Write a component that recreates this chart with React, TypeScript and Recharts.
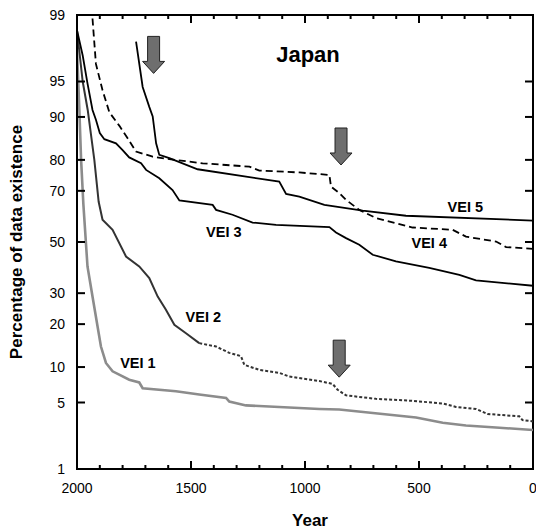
import React from "react";
import {
  LineChart,
  Line,
  XAxis,
  YAxis,
  ReferenceDot,
  ReferenceArea,
} from "recharts";

// survival curves, year vs percentage of data existence
const VEI5_YEARS = [1741, 1712, 1683, 1668, 1653, 1639, 1595, 1471, 1113, 1083, 1025, 915, 747, 557, 0];
const VEI5_PCT = [98.0, 94.4, 91.7, 90.1, 84.4, 81.4, 80.5, 77.2, 73.2, 68.9, 67.9, 64.8, 62.6, 60.6, 58.7];

const VEI4_YEARS = [1932, 1917, 1888, 1858, 1814, 1778, 1741, 1668, 1595, 1449, 1244, 1200, 1025, 893, 886, 850, 820, 762, 689, 528, 353, 294, 162, 118, 0];
const VEI4_PCT = [98.9, 96.6, 94.0, 90.8, 88.3, 85.6, 82.3, 80.9, 80.2, 79.0, 78.0, 76.8, 76.2, 75.4, 71.5, 69.2, 66.7, 62.9, 59.7, 55.9, 55.0, 52.2, 50.2, 47.9, 47.2];

const VEI3_YEARS = [2000, 1975, 1954, 1932, 1917, 1900, 1880, 1829, 1800, 1771, 1719, 1697, 1639, 1581, 1551, 1405, 1390, 1318, 1230, 1127, 893, 864, 820, 762, 703, 601, 455, 323, 250, 0];
const VEI3_PCT = [98.5, 97.2, 94.8, 91.2, 89.5, 86.8, 85.4, 84.4, 82.7, 80.7, 79.0, 77.0, 74.3, 70.3, 66.5, 64.8, 62.9, 61.0, 57.9, 57.0, 56.1, 53.9, 51.6, 48.9, 44.8, 42.1, 39.5, 36.8, 34.7, 32.7];

const VEI2_YEARS = [2000, 1975, 1953, 1924, 1905, 1888, 1844, 1785, 1727, 1683, 1646, 1610, 1573, 1522, 1464];
const VEI2_PCT = [98.5, 95.0, 91.2, 80.0, 66.0, 59.0, 55.0, 44.1, 40.1, 35.6, 28.8, 24.4, 19.8, 17.5, 15.0];
const VEI2_LATE_YEARS = [1464, 1390, 1332, 1281, 1266, 1200, 1113, 1069, 937, 879, 857, 820, 689, 542, 396, 338, 250, 199, 60, 46, 0];
const VEI2_LATE_PCT = [15.0, 14.2, 12.8, 12.1, 10.4, 9.5, 9.0, 8.4, 7.7, 7.3, 6.5, 5.8, 5.4, 5.2, 4.9, 4.55, 4.35, 3.9, 3.7, 3.4, 3.3];

const VEI1_YEARS = [2000, 1990, 1982, 1972, 1954, 1932, 1910, 1895, 1873, 1844, 1815, 1771, 1727, 1712, 1566, 1464, 1346, 1332, 1259, 937, 850, 660, 513, 396, 294, 147, 0];
const VEI1_PCT = [97.5, 91.5, 80.0, 65.0, 40.1, 28.8, 19.4, 14.2, 10.75, 9.25, 8.7, 7.9, 7.5, 6.7, 6.3, 5.9, 5.5, 5.1, 4.7, 4.35, 4.3, 3.9, 3.6, 3.2, 3.0, 2.85, 2.7];

const X_TICKS = [0, 100, 200, 300, 400, 500, 600, 700, 800, 900, 1000, 1100, 1200, 1300, 1400, 1500, 1600, 1700, 1800, 1900, 2000];
const Y_TICK_PCT = [1, 5, 10, 20, 30, 50, 70, 80, 90, 95, 99];

const ARROW_YEARS = [1664, 842, 850];
const ARROW_PCT = [95.8, 78.5, 8.3];

const LABEL_TEXT = ["VEI 5", "VEI 4", "VEI 3", "VEI 2", "VEI 1"];
const LABEL_YEARS = [297, 455, 1356, 1446, 1733];
const LABEL_PCT = [64.1, 49.7, 54.2, 22.2, 10.8];

const FONT = "'Liberation Sans', Arial, Helvetica, sans-serif";
const FRAME = 2;

// inverse normal cdf (Acklam) for the probability axis
function probit(p: number): number {
  const a = [-39.69683028665376, 220.9460984245205, -275.9285104469687, 138.357751867269, -30.66479806614716, 2.506628277459239];
  const b = [-54.47609879822406, 161.5858368580409, -155.6989798598866, 66.80131188771972, -13.28068155288572];
  const c = [-0.007784894002430293, -0.3223964580411365, -2.400758277161838, -2.549732539343734, 4.374664141464968, 2.938163982698783];
  const d = [0.007784695709041462, 0.3224671290700398, 2.445134137142996, 3.754408661907416];
  const pl = 0.02425;
  if (p < pl) {
    const q = Math.sqrt(-2 * Math.log(p));
    return (((((c[0] * q + c[1]) * q + c[2]) * q + c[3]) * q + c[4]) * q + c[5]) / ((((d[0] * q + d[1]) * q + d[2]) * q + d[3]) * q + 1);
  }
  if (p <= 1 - pl) {
    const q = p - 0.5;
    const r = q * q;
    return ((((((a[0] * r + a[1]) * r + a[2]) * r + a[3]) * r + a[4]) * r + a[5]) * q) / (((((b[0] * r + b[1]) * r + b[2]) * r + b[3]) * r + b[4]) * r + 1);
  }
  const q = Math.sqrt(-2 * Math.log(1 - p));
  return -(((((c[0] * q + c[1]) * q + c[2]) * q + c[3]) * q + c[4]) * q + c[5]) / ((((d[0] * q + d[1]) * q + d[2]) * q + d[3]) * q + 1);
}

const z = (pct: number) => probit(pct / 100);
const toPoints = (years: number[], pct: number[]) => years.map((year, i) => ({ year, z: z(pct[i]) }));

const Y_TICKS = Y_TICK_PCT.map(z);
const Y_DOMAIN = [z(1), z(99)];
const pctLabel = (v: number) => Y_TICK_PCT.find((p) => Math.abs(z(p) - v) < 1e-6);

const LeftLabel = (props: any) => (
  <text x={Number(props.x) - 12} y={Number(props.y)} dy={5} textAnchor="end" fontSize={14} fontFamily={FONT} fill="#000">
    {pctLabel(props.payload.value)}
  </text>
);

const BottomLabel = (props: any) =>
  props.payload.value % 500 === 0 ? (
    <text x={Number(props.x)} y={Number(props.y) + 24} textAnchor="middle" fontSize={14} fontFamily={FONT} fill="#000">
      {props.payload.value}
    </text>
  ) : (
    <g />
  );

// inward tick mark drawn at a data point on the frame edge
const tickMark = (dx: number, dy: number) => (props: any) => {
  const cx = Number(props.cx);
  const cy = Number(props.cy);
  return <line x1={cx} y1={cy} x2={cx + dx} y2={cy + dy} stroke="#000" strokeWidth={FRAME} />;
};

const Arrow = (props: any) => {
  const cx = Number(props.cx);
  const cy = Number(props.cy);
  const pts = [
    [cx - 6, cy - 37],
    [cx + 6, cy - 37],
    [cx + 6, cy - 12],
    [cx + 11, cy - 12],
    [cx, cy],
    [cx - 11, cy - 12],
    [cx - 6, cy - 12],
  ]
    .map((p) => p.join(","))
    .join(" ");
  return <polygon points={pts} fill="#6e6e6e" stroke="#222" strokeWidth={1} />;
};

const textShape = (label: string, size: number) => (props: any) => (
  <text x={props.cx} y={props.cy} dy={size * 0.36} textAnchor="middle" fontSize={size} fontWeight="bold" fontFamily={FONT} fill="#000">
    {label}
  </text>
);

export default function App() {
  return (
    <div style={{ position: "absolute", left: 0, top: 0, width: 536, height: 529, background: "#fff" }}>
      <LineChart width={536} height={529} margin={{ top: 15, right: 3, bottom: 0, left: 0 }}>
        <XAxis
          dataKey="year"
          type="number"
          domain={[0, 2000]}
          reversed
          allowDataOverflow
          ticks={X_TICKS}
          interval={0}
          height={60}
          tickSize={0}
          tickMargin={0}
          tick={<BottomLabel />}
          axisLine={{ stroke: "#000", strokeWidth: FRAME }}
        />
        <YAxis
          type="number"
          domain={Y_DOMAIN}
          allowDataOverflow
          ticks={Y_TICKS}
          interval={0}
          width={77}
          tickSize={0}
          tickMargin={0}
          tick={<LeftLabel />}
          axisLine={{ stroke: "#000", strokeWidth: FRAME }}
        />

        <ReferenceArea
          x1={0}
          x2={2000}
          y1={Y_DOMAIN[0]}
          y2={Y_DOMAIN[1]}
          fill="none"
          stroke="#000"
          strokeWidth={FRAME}
          ifOverflow="visible"
        />
        {X_TICKS.map((t) => (
          <ReferenceDot key={`b-${t}`} x={t} y={Y_DOMAIN[0]} r={0} ifOverflow="visible" shape={tickMark(0, t % 500 === 0 ? -8 : -4)} />
        ))}
        {X_TICKS.map((t) => (
          <ReferenceDot key={`t-${t}`} x={t} y={Y_DOMAIN[1]} r={0} ifOverflow="visible" shape={tickMark(0, t % 500 === 0 ? 8 : 4)} />
        ))}
        {Y_TICKS.map((t, i) => (
          <ReferenceDot key={`l-${i}`} x={2000} y={t} r={0} ifOverflow="visible" shape={tickMark(8, 0)} />
        ))}
        {Y_TICKS.map((t, i) => (
          <ReferenceDot key={`r-${i}`} x={0} y={t} r={0} ifOverflow="visible" shape={tickMark(-8, 0)} />
        ))}

        <Line data={toPoints(VEI1_YEARS, VEI1_PCT)} dataKey="z" type="linear" stroke="#8c8c8c" strokeWidth={2.6} dot={false} isAnimationActive={false} />
        <Line data={toPoints(VEI2_YEARS, VEI2_PCT)} dataKey="z" type="linear" stroke="#333" strokeWidth={2} dot={false} isAnimationActive={false} />
        <Line data={toPoints(VEI2_LATE_YEARS, VEI2_LATE_PCT)} dataKey="z" type="linear" stroke="#333" strokeWidth={2} strokeDasharray="3 2" dot={false} isAnimationActive={false} />
        <Line data={toPoints(VEI3_YEARS, VEI3_PCT)} dataKey="z" type="linear" stroke="#000" strokeWidth={1.8} dot={false} isAnimationActive={false} />
        <Line data={toPoints(VEI4_YEARS, VEI4_PCT)} dataKey="z" type="linear" stroke="#000" strokeWidth={1.8} strokeDasharray="7 4" dot={false} isAnimationActive={false} />
        <Line data={toPoints(VEI5_YEARS, VEI5_PCT)} dataKey="z" type="linear" stroke="#000" strokeWidth={1.8} dot={false} isAnimationActive={false} />

        {ARROW_YEARS.map((yr, i) => (
          <ReferenceDot key={`arrow-${i}`} x={yr} y={z(ARROW_PCT[i])} r={0} ifOverflow="visible" shape={<Arrow />} />
        ))}
        {LABEL_TEXT.map((t, i) => (
          <ReferenceDot key={t} x={LABEL_YEARS[i]} y={z(LABEL_PCT[i])} r={0} ifOverflow="visible" shape={textShape(t, 14.5)} />
        ))}
        <ReferenceDot x={987} y={z(97.3)} r={0} ifOverflow="visible" shape={textShape("Japan", 22)} />
      </LineChart>

      <div
        style={{
          position: "absolute",
          left: 17,
          top: 242,
          transform: "translate(-50%, -50%) rotate(-90deg)",
          whiteSpace: "nowrap",
          fontFamily: FONT,
          fontWeight: "bold",
          fontSize: 17,
        }}
      >
        Percentage of data existence
      </div>
      <div
        style={{
          position: "absolute",
          left: 310,
          top: 521,
          transform: "translate(-50%, -50%)",
          fontFamily: FONT,
          fontWeight: "bold",
          fontSize: 17,
        }}
      >
        Year
      </div>
    </div>
  );
}
